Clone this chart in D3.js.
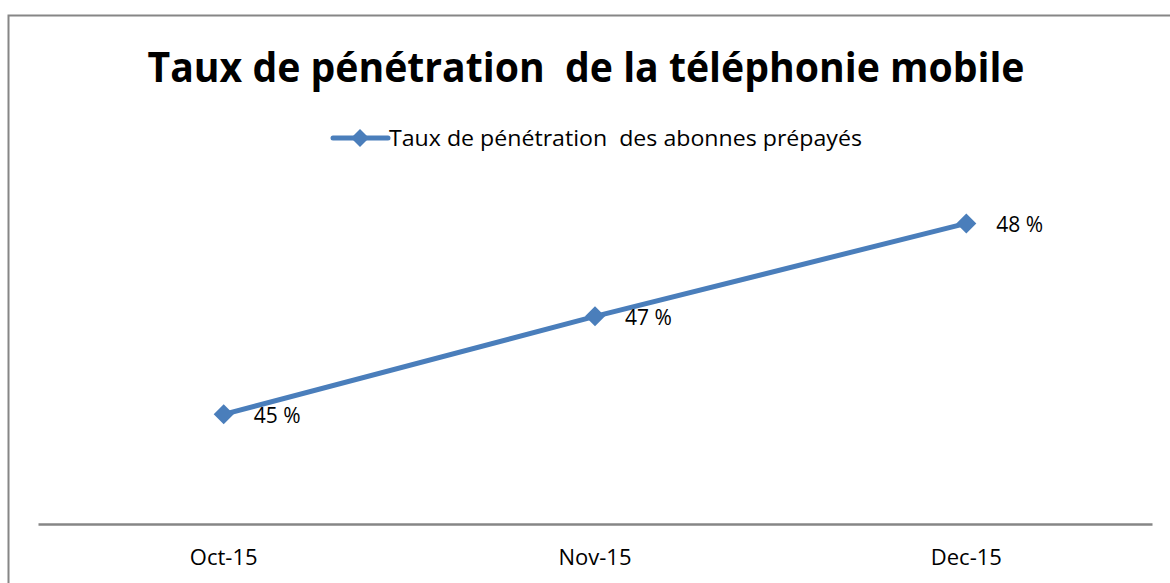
<!DOCTYPE html>
<html>
<head>
<meta charset="utf-8">
<script src="https://cdn.jsdelivr.net/npm/d3@7"></script>
<style>
  html, body { margin: 0; background: #fff; overflow: hidden; }
  svg { display: block; }
  text { font-family: "Open Sans", "Noto Sans", sans-serif; fill: #000; white-space: pre; }
</style>
</head>
<body>
<div id="chart"></div>
<script>
var months = ["Oct-15", "Nov-15", "Dec-15"];
var penetration = [44.97, 46.73, 48.4];
var seriesName = "Taux de pénétration  des abonnes prépayés";
var chartTitle = "Taux de pénétration  de la téléphonie mobile";

var width = 1170, height = 583;
var margin = { top: 190, left: 38, right: 18, bottom: 59 };
var blue = "#4a7ebb";

var svg = d3.select("#chart")
  .append("svg")
  .attr("width", width)
  .attr("height", height);

svg.append("rect")
  .attr("width", width).attr("height", height)
  .attr("fill", "#fff");

// chart area border: only the top and left edges fall inside the picture
svg.append("path")
  .attr("d", "M8.5," + height + "V15.5H" + width)
  .attr("fill", "none")
  .attr("stroke", "#868686")
  .attr("stroke-width", 2);

var xScale = d3.scaleBand()
  .domain(months)
  .range([margin.left, width - margin.right]);

var yScale = d3.scaleLinear()
  .domain([43, 49])
  .range([height - margin.bottom, margin.top]);

var data = months.map(function(m, i) { return { month: m, value: penetration[i] }; });

svg.append("text")
  .attr("x", 586)
  .attr("y", 82)
  .attr("text-anchor", "middle")
  .attr("font-size", 41)
  .attr("font-weight", "bold")
  .attr("textLength", 877)
  .attr("lengthAdjust", "spacingAndGlyphs")
  .text(chartTitle);

// legend
var legend = svg.append("g").attr("transform", "translate(333,138)");
legend.append("line")
  .attr("x1", 0).attr("x2", 55)
  .attr("stroke", blue).attr("stroke-width", 5)
  .attr("stroke-linecap", "round");
legend.append("path")
  .attr("d", d3.symbol(d3.symbolSquare, 162)())
  .attr("transform", "translate(27,0) rotate(45)")
  .attr("fill", blue);
legend.append("text")
  .attr("x", 56).attr("y", 8)
  .attr("font-size", 21)
  .attr("textLength", 473)
  .attr("lengthAdjust", "spacingAndGlyphs")
  .text(seriesName);

// x axis
var xAxis = d3.axisBottom(xScale).tickSize(0).tickPadding(25);
var gx = svg.append("g")
  .attr("class", "axis x-axis")
  .attr("transform", "translate(0," + (height - margin.bottom) + ")")
  .call(xAxis);
gx.select(".domain").attr("stroke", "#868686").attr("stroke-width", 2.5);
gx.selectAll(".tick text")
  .attr("font-size", 22)
  .attr("font-family", "Open Sans, Noto Sans, sans-serif")
  .attr("fill", "#000");

var line = d3.line()
  .x(function(d) { return xScale(d.month) + xScale.bandwidth() / 2; })
  .y(function(d) { return yScale(d.value); });

svg.append("path")
  .datum(data)
  .attr("d", line)
  .attr("fill", "none")
  .attr("stroke", blue)
  .attr("stroke-width", 5)
  .attr("stroke-linejoin", "round");

svg.selectAll(".marker")
  .data(data)
  .enter().append("path")
  .attr("class", "marker")
  .attr("d", d3.symbol(d3.symbolSquare, 200)())
  .attr("transform", function(d) {
    return "translate(" + (xScale(d.month) + xScale.bandwidth() / 2) + "," + yScale(d.value) + ") rotate(45)";
  })
  .attr("fill", blue);

svg.selectAll(".label")
  .data(data)
  .enter().append("text")
  .attr("class", "label")
  .attr("x", function(d) { return xScale(d.month) + xScale.bandwidth() / 2 + 30; })
  .attr("y", function(d) { return yScale(d.value) + 9; })
  .attr("font-size", 21)
  .text(function(d) { return Math.round(d.value) + " %"; });
</script>
</body>
</html>
